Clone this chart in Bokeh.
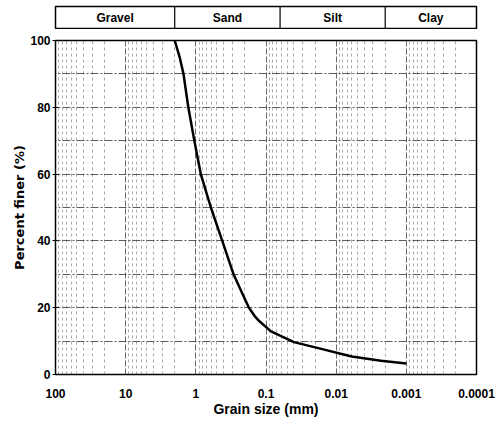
from bokeh.plotting import figure
from bokeh.models import Range1d, FixedTicker, SingleIntervalTicker, CustomJSTickFormatter
from bokeh.layouts import column
from bokeh.core.properties import value
from bokeh.embed import file_html
from bokeh.resources import INLINE

# ---- data ----
grain_mm = [2.0, 1.7, 1.5, 1.28, 1.05, 0.85, 0.61, 0.42, 0.29, 0.22, 0.175, 0.145, 0.125, 0.085, 0.04, 0.018, 0.006, 0.0023, 0.001]
pct_finer = [100, 95, 90, 80, 70, 60, 50, 40, 30, 24.5, 20, 17.5, 16, 12.9, 9.7, 7.9, 5.4, 4.1, 3.3]
x_ticks = [100, 10, 1, 0.1, 0.01, 0.001, 0.0001]
x_tick_labels = ["100", "10", "1", "0.1", "0.01", "0.001", "0.0001"]
y_ticks = [0, 20, 40, 60, 80, 100]
classes = ["Gravel", "Sand", "Silt", "Clay"]
class_bounds = [100, 2, 0.063, 0.002, 0.0001]

FONT = "Liberation Sans"
W = 496
LEFT = 55
RIGHT = 20

xr = Range1d(x_ticks[0], x_ticks[-1])

# ---- header band ----
hdr = figure(width=W, height=29, x_axis_type="log", x_range=xr, y_range=Range1d(0, 1),
             x_axis_location=None, y_axis_location=None, toolbar_location=None,
             output_backend="svg", min_border_left=LEFT, min_border_right=RIGHT,
             min_border_top=6, min_border_bottom=0)
hdr.grid.visible = False
hdr.outline_line_color = "black"
hdr.outline_line_width = 1.5
inner = class_bounds[1:-1]
hdr.segment(x0=inner, y0=[0] * len(inner), x1=inner, y1=[1] * len(inner),
            line_color="black", line_width=1.2)
mids = [(class_bounds[i] * class_bounds[i + 1]) ** 0.5 for i in range(len(classes))]
hdr.text(x=mids, y=[0.5] * len(mids), text=classes, text_align="center",
         text_baseline="middle", text_font=value(FONT), text_font_style="bold",
         text_font_size="12px", text_color="black")

# ---- main chart ----
p = figure(width=W, height=391, x_axis_type="log", x_range=xr, y_range=Range1d(0, 100),
           toolbar_location=None, output_backend="svg",
           min_border_left=LEFT, min_border_right=RIGHT, min_border_top=11, min_border_bottom=46)
p.outline_line_color = "black"
p.outline_line_width = 1.5

minor = [k * 10.0 ** e for e in range(-4, 2) for k in range(2, 10)]
p.xaxis.ticker = FixedTicker(ticks=x_ticks, minor_ticks=minor)
p.xaxis.formatter = CustomJSTickFormatter(args=dict(vals=x_ticks, labs=x_tick_labels), code="""
let best = 0, bd = Infinity;
for (let i = 0; i < vals.length; i++) {
  const d = Math.abs(Math.log10(vals[i]) - Math.log10(tick));
  if (d < bd) { bd = d; best = i; }
}
return labs[best];
""")
p.yaxis.ticker = FixedTicker(ticks=y_ticks)
p.ygrid.ticker = SingleIntervalTicker(interval=10)

p.xgrid.grid_line_color = "#444444"
p.xgrid.grid_line_alpha = 0.8
p.xgrid.grid_line_dash = "6 2"
p.xgrid.minor_grid_line_color = "#666666"
p.xgrid.minor_grid_line_alpha = 0.55
p.xgrid.minor_grid_line_dash = "3 3"
p.ygrid.grid_line_color = "#333333"
p.ygrid.grid_line_alpha = 0.8
p.ygrid.grid_line_dash = "8 2 2 2"

for ax in (p.xaxis, p.yaxis):
    ax.axis_line_color = None
    ax.major_label_text_font = FONT
    ax.major_label_text_font_style = "bold"
    ax.major_label_text_font_size = "12px"
    ax.major_label_text_color = "black"
    ax.axis_label_text_font = FONT
    ax.axis_label_text_font_style = "bold"
    ax.axis_label_text_font_size = "14px"
    ax.axis_label_text_color = "black"
    ax.minor_tick_line_color = None

p.xaxis.major_tick_line_color = None
p.xaxis.major_label_standoff = 8
p.xaxis.axis_label = "Grain size (mm)"
p.xaxis.axis_label_standoff = 0

p.yaxis.major_tick_in = 3
p.yaxis.major_tick_out = 3
p.yaxis.major_tick_line_color = "black"
p.yaxis.major_label_standoff = 2
p.yaxis.axis_label = "Percent finer (%)"
p.yaxis.axis_label_text_font = "DejaVu Sans"
p.yaxis.axis_label_text_font_size = "13px"
p.yaxis.axis_label_standoff = 0

p.line(grain_mm, pct_finer, line_color="black", line_width=2.5)

layout = column(hdr, p, spacing=0)
open("out.html", "w").write(file_html(layout, INLINE))
